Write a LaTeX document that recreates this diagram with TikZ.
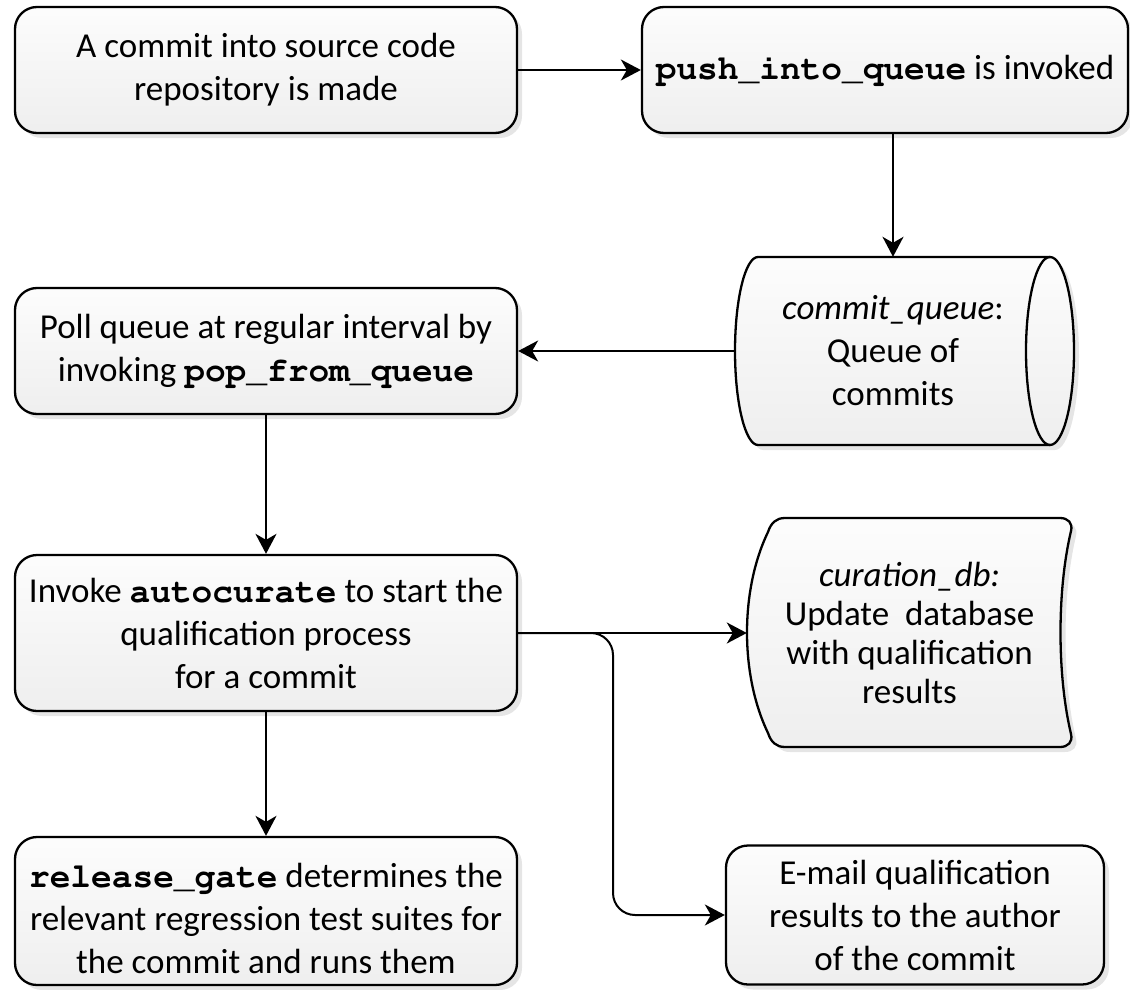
\documentclass[tikz,border=0pt]{standalone}
\usepackage[T1]{fontenc}
\usepackage{fontspec}
\setmainfont{Carlito}
\usetikzlibrary{arrows.meta,shadows}
\newcommand{\code}[1]{{\fontencoding{T1}\fontfamily{pcr}\fontseries{b}\fontsize{34.5}{43}\selectfont #1}}
\begin{document}
\begin{tikzpicture}[x=1pt,y=-1pt,
  shp/.style={draw=black, line width=2.3pt, top color=gray!2, bottom color=gray!13,
    drop shadow={shadow xshift=5pt, shadow yshift=-5pt, fill=gray!20, opacity=1}},
  txt/.style={align=center, inner sep=0pt, font=\fontsize{35}{43}\selectfont},
  proc/.style={shp, txt, rectangle, rounded corners=22pt},
  conn/.style={line width=2pt, -{Stealth[length=20pt,width=21pt,inset=6pt]}}]
\useasboundingbox (0,0) rectangle (1130,990);

% process boxes
\node[proc, minimum width=502pt, minimum height=126pt] (commit) at (266,70)
  {A commit into source code\\repository is made};
\node[proc, minimum width=486pt, minimum height=126pt] (push) at (885,70)
  {\code{push\_into\_queue} is invoked};
\node[proc, minimum width=502pt, minimum height=126pt] (poll) at (266,351)
  {Poll queue at regular interval by\\invoking \code{pop\_from\_queue}};
\node[proc, minimum width=502pt, minimum height=156pt] (auto) at (266,633)
  {Invoke \code{autocurate} to start the\\qualification process\\for a commit};
\node[proc, minimum width=502pt, minimum height=148pt] (release) at (266,911)
  {\rule{0pt}{40pt}\code{release\_gate} determines the\\relevant regression test suites for\\the commit and runs them};
\node[proc, minimum width=378pt, minimum height=139pt] (email) at (915,915)
  {E-mail qualification\\results to the author\\of the commit};

% queue (direct data)
\path[shp] (758,257) -- (1050,257)
  arc[start angle=-90, end angle=90, x radius=24, y radius=94]
  -- (758,445)
  arc[start angle=90, end angle=270, x radius=23, y radius=94] -- cycle;
\draw[line width=2.3pt] (1050,257) arc[start angle=270, end angle=90, x radius=24, y radius=94];
\node[txt, minimum width=314pt, minimum height=188pt] (queue) at (893,351)
  {\textit{commit\_queue}:\\Queue of\\commits};

% curation db (stored data)
\path[shp] (785,518) -- (1060,518)
  .. controls (1068,518) and (1073,523) .. (1071,531)
  .. controls (1057,590) and (1057,675) .. (1071,734)
  .. controls (1073,742) and (1068,747) .. (1060,747)
  -- (785,747)
  .. controls (776,747) and (771,742) .. (768,733)
  .. controls (740,675) and (740,590) .. (768,532)
  .. controls (771,523) and (776,518) .. (785,518) -- cycle;
\node[txt, font=\fontsize{35}{39}\selectfont, minimum width=325pt, minimum height=229pt] (cur) at (909.5,633)
  {\textit{curation\_db:}\\Update\ \ database\\with qualification\\results};

% connectors
\coordinate (br) at (613,633);
\draw[conn] (commit.east) -- (push.west);
\draw[conn] (push.south -| queue.north) -- (queue.north);
\draw[conn] (queue.west) -- (poll.east);
\draw[conn] (poll.south) -- (auto.north);
\draw[conn] (auto.south) -- (release.north);
\draw[conn] (auto.east) -- (cur.west);
\draw[conn, rounded corners=22pt] (auto.east) -- (br) |- (email.west);
\end{tikzpicture}
\end{document}
